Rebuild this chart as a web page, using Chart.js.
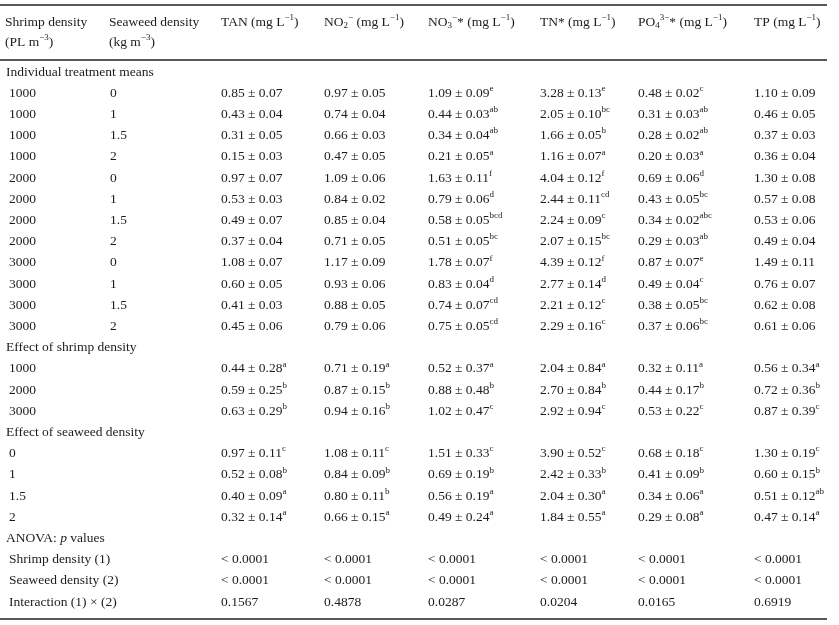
<!DOCTYPE html>
<html>
<head>
<meta charset="utf-8">
<title>Water quality by shrimp and seaweed density</title>
<script src="https://cdn.jsdelivr.net/npm/chart.js@4.4.1/dist/chart.umd.min.js"></script>
<style>
  html, body { margin: 0; padding: 0; background: #fff; }
  #wrap { width: 839px; height: 625px; position: relative; }
</style>
</head>
<body>
<div id="wrap"><canvas id="tableChart"></canvas></div>
<script>
// 1. Row labels
const sections = ["Individual treatment means", "Effect of shrimp density", "Effect of seaweed density", "ANOVA"];
const shrimpLevels = ["1000", "1000", "1000", "1000", "2000", "2000", "2000", "2000", "3000", "3000", "3000", "3000"];
const seaweedLevels = ["0", "1", "1.5", "2", "0", "1", "1.5", "2", "0", "1", "1.5", "2"];
const shrimpEffect = ["1000", "2000", "3000"];
const seaweedEffect = ["0", "1", "1.5", "2"];
const anovaTerms = ["Shrimp density (1)", "Seaweed density (2)", "Interaction (1) \u00d7 (2)"];

// 2. Values: 12 treatment rows, then 3 shrimp-effect rows, then 4 seaweed-effect rows
const tanMean = [0.85, 0.43, 0.31, 0.15, 0.97, 0.53, 0.49, 0.37, 1.08, 0.60, 0.41, 0.45, 0.44, 0.59, 0.63, 0.97, 0.52, 0.40, 0.32];
const tanSd   = [0.07, 0.04, 0.05, 0.03, 0.07, 0.03, 0.07, 0.04, 0.07, 0.05, 0.03, 0.06, 0.28, 0.25, 0.29, 0.11, 0.08, 0.09, 0.14];
const tanSig  = ["", "", "", "", "", "", "", "", "", "", "", "", "a", "b", "b", "c", "b", "a", "a"];

const no2Mean = [0.97, 0.74, 0.66, 0.47, 1.09, 0.84, 0.85, 0.71, 1.17, 0.93, 0.88, 0.79, 0.71, 0.87, 0.94, 1.08, 0.84, 0.80, 0.66];
const no2Sd   = [0.05, 0.04, 0.03, 0.05, 0.06, 0.02, 0.04, 0.05, 0.09, 0.06, 0.05, 0.06, 0.19, 0.15, 0.16, 0.11, 0.09, 0.11, 0.15];
const no2Sig  = ["", "", "", "", "", "", "", "", "", "", "", "", "a", "b", "b", "c", "b", "b", "a"];

const no3Mean = [1.09, 0.44, 0.34, 0.21, 1.63, 0.79, 0.58, 0.51, 1.78, 0.83, 0.74, 0.75, 0.52, 0.88, 1.02, 1.51, 0.69, 0.56, 0.49];
const no3Sd   = [0.09, 0.03, 0.04, 0.05, 0.11, 0.06, 0.05, 0.05, 0.07, 0.04, 0.07, 0.05, 0.37, 0.48, 0.47, 0.33, 0.19, 0.19, 0.24];
const no3Sig  = ["e", "ab", "ab", "a", "f", "d", "bcd", "bc", "f", "d", "cd", "cd", "a", "b", "c", "c", "b", "a", "a"];

const tnMean = [3.28, 2.05, 1.66, 1.16, 4.04, 2.44, 2.24, 2.07, 4.39, 2.77, 2.21, 2.29, 2.04, 2.70, 2.92, 3.90, 2.42, 2.04, 1.84];
const tnSd   = [0.13, 0.10, 0.05, 0.07, 0.12, 0.11, 0.09, 0.15, 0.12, 0.14, 0.12, 0.16, 0.84, 0.84, 0.94, 0.52, 0.33, 0.30, 0.55];
const tnSig  = ["e", "bc", "b", "a", "f", "cd", "c", "bc", "f", "d", "c", "c", "a", "b", "c", "c", "b", "a", "a"];

const po4Mean = [0.48, 0.31, 0.28, 0.20, 0.69, 0.43, 0.34, 0.29, 0.87, 0.49, 0.38, 0.37, 0.32, 0.44, 0.53, 0.68, 0.41, 0.34, 0.29];
const po4Sd   = [0.02, 0.03, 0.02, 0.03, 0.06, 0.05, 0.02, 0.03, 0.07, 0.04, 0.05, 0.06, 0.11, 0.17, 0.22, 0.18, 0.09, 0.06, 0.08];
const po4Sig  = ["c", "ab", "ab", "a", "d", "bc", "abc", "ab", "e", "c", "bc", "bc", "a", "b", "c", "c", "b", "a", "a"];

const tpMean = [1.10, 0.46, 0.37, 0.36, 1.30, 0.57, 0.53, 0.49, 1.49, 0.76, 0.62, 0.61, 0.56, 0.72, 0.87, 1.30, 0.60, 0.51, 0.47];
const tpSd   = [0.09, 0.05, 0.03, 0.04, 0.08, 0.08, 0.06, 0.04, 0.11, 0.07, 0.08, 0.06, 0.34, 0.36, 0.39, 0.19, 0.15, 0.12, 0.14];
const tpSig  = ["", "", "", "", "", "", "", "", "", "", "", "", "a", "b", "c", "c", "b", "ab", "a"];

// 3. ANOVA p values (TAN, NO2, NO3, TN, PO4, TP)
const pShrimp = ["< 0.0001", "< 0.0001", "< 0.0001", "< 0.0001", "< 0.0001", "< 0.0001"];
const pSeaweed = ["< 0.0001", "< 0.0001", "< 0.0001", "< 0.0001", "< 0.0001", "< 0.0001"];
const pInteraction = ["0.1567", "0.4878", "0.0287", "0.0204", "0.0165", "0.6919"];

// column headers, as pieces of text (sup / sub / italic)
const headers = [
  [[{ t: "Shrimp density" }], [{ t: "(PL m" }, { t: "\u22123", sup: true }, { t: ")" }]],
  [[{ t: "Seaweed density" }], [{ t: "(kg m" }, { t: "\u22123", sup: true }, { t: ")" }]],
  [[{ t: "TAN (mg L" }, { t: "\u22121", sup: true }, { t: ")" }]],
  [[{ t: "NO" }, { t: "2", sub: true }, { t: "\u2212", sup: true }, { t: " (mg L" }, { t: "\u22121", sup: true }, { t: ")" }]],
  [[{ t: "NO" }, { t: "3", sub: true }, { t: "\u2212", sup: true }, { t: "* (mg L" }, { t: "\u22121", sup: true }, { t: ")" }]],
  [[{ t: "TN* (mg L" }, { t: "\u22121", sup: true }, { t: ")" }]],
  [[{ t: "PO" }, { t: "4", sub: true }, { t: "3\u2212", sup: true }, { t: "* (mg L" }, { t: "\u22121", sup: true }, { t: ")" }]],
  [[{ t: "TP (mg L" }, { t: "\u22121", sup: true }, { t: ")" }]]
];

// layout (not data)
const colLeft = [9, 110, 221, 324, 428, 540, 638, 754];
const headLeft = [5, 109, 221, 324, 428, 540, 638, 754];
const sectionLeft = 6;
const lineRight = 827;
const FONT = "'Liberation Serif', 'Times New Roman', serif";
const INK = "#1c1c1c";

const means = [tanMean, no2Mean, no3Mean, tnMean, po4Mean, tpMean];
const sds = [tanSd, no2Sd, no3Sd, tnSd, po4Sd, tpSd];
const sigs = [tanSig, no2Sig, no3Sig, tnSig, po4Sig, tpSig];
const pRows = [pShrimp, pSeaweed, pInteraction];

// 4. Build the row list
let rows = [];
rows.push({ section: [{ t: sections[0] }] });
shrimpLevels.forEach((s, i) => rows.push({ a: s, b: seaweedLevels[i], v: i }));
rows.push({ section: [{ t: sections[1] }] });
shrimpEffect.forEach((s, i) => rows.push({ a: s, b: "", v: 12 + i }));
rows.push({ section: [{ t: sections[2] }] });
seaweedEffect.forEach((s, i) => rows.push({ a: s, b: "", v: 15 + i }));
rows.push({ section: [{ t: "ANOVA: " }, { t: "p", it: true }, { t: " values" }] });
anovaTerms.forEach((s, i) => rows.push({ a: s, b: "", p: i }));

const rowKeys = rows.map((r, i) => "r" + i);

// one scatter dataset per column, text stored next to each point
let datasets = [];
let secData = [], secCells = [];
rows.forEach((r, i) => {
  if (r.section) { secData.push({ x: sectionLeft, y: rowKeys[i] }); secCells.push(r.section); }
});
datasets.push({ data: secData, cells: secCells });

let c0 = [], c0c = [], c1 = [], c1c = [];
rows.forEach((r, i) => {
  if (r.section) return;
  c0.push({ x: colLeft[0], y: rowKeys[i] }); c0c.push([{ t: r.a }]);
  if (r.b !== "") { c1.push({ x: colLeft[1], y: rowKeys[i] }); c1c.push([{ t: r.b }]); }
});
datasets.push({ data: c0, cells: c0c });
datasets.push({ data: c1, cells: c1c });

for (let k = 0; k < 6; k++) {
  let d = [], cells = [];
  rows.forEach((r, i) => {
    if (r.v !== undefined) {
      let segs = [{ t: means[k][r.v].toFixed(2) + " \u00b1 " + sds[k][r.v].toFixed(2) }];
      if (sigs[k][r.v]) segs.push({ t: sigs[k][r.v], sup: true });
      d.push({ x: colLeft[k + 2], y: rowKeys[i] }); cells.push(segs);
    } else if (r.p !== undefined) {
      d.push({ x: colLeft[k + 2], y: rowKeys[i] }); cells.push([{ t: pRows[r.p][k] }]);
    }
  });
  datasets.push({ data: d, cells: cells });
}

datasets.forEach(ds => { ds.pointRadius = 0; ds.pointHoverRadius = 0; });

// 5. Draw rich text
function drawRich(ctx, segs, x, y) {
  let cx = x;
  segs.forEach(s => {
    let size = 13.5, dy = 0, style = "";
    if (s.sup) { size = 9; dy = -4.5; }
    if (s.sub) { size = 9; dy = 4; }
    if (s.it) style = "italic ";
    ctx.font = style + size + "px " + FONT;
    ctx.fillText(s.t, cx, y + dy);
    cx += ctx.measureText(s.t).width;
  });
}

const tablePlugin = {
  id: "tableText",
  beforeDraw(chart) {
    const ctx = chart.ctx;
    ctx.save();
    ctx.fillStyle = "#fff";
    ctx.fillRect(0, 0, chart.width, chart.height);
    ctx.restore();
  },
  afterDatasetsDraw(chart) {
    const ctx = chart.ctx;
    const xs = chart.scales.x;
    const top = chart.chartArea.top, bottom = chart.chartArea.bottom;
    ctx.save();
    ctx.fillStyle = INK;
    ctx.textBaseline = "middle";
    ctx.textAlign = "left";

    // cells
    chart.data.datasets.forEach((ds, di) => {
      chart.getDatasetMeta(di).data.forEach((pt, j) => drawRich(ctx, ds.cells[j], pt.x, pt.y));
    });

    // header
    headers.forEach((h, i) => {
      h.forEach((line, li) => drawRich(ctx, line, xs.getPixelForValue(headLeft[i]), top - 50 + li * 20));
    });

    // rules
    ctx.strokeStyle = "#222";
    ctx.lineWidth = 1.6;
    [top - 67, top - 12, bottom + 17].forEach(y => {
      ctx.beginPath();
      ctx.moveTo(xs.getPixelForValue(0), y);
      ctx.lineTo(xs.getPixelForValue(lineRight), y);
      ctx.stroke();
    });
    ctx.restore();
  }
};

const tableChart = new Chart(document.getElementById("tableChart"), {
  type: "scatter",
  data: { datasets: datasets },
  options: {
    responsive: true,
    maintainAspectRatio: false,
    animation: false,
    events: [],
    layout: { padding: { top: 72, bottom: 23, left: 0, right: 0 } },
    plugins: { legend: { display: false }, tooltip: { enabled: false } },
    scales: {
      x: { type: "linear", min: 0, max: 839, display: false },
      y: { type: "category", labels: rowKeys, offset: false, display: false }
    }
  },
  plugins: [tablePlugin]
});
</script>
</body>
</html>
